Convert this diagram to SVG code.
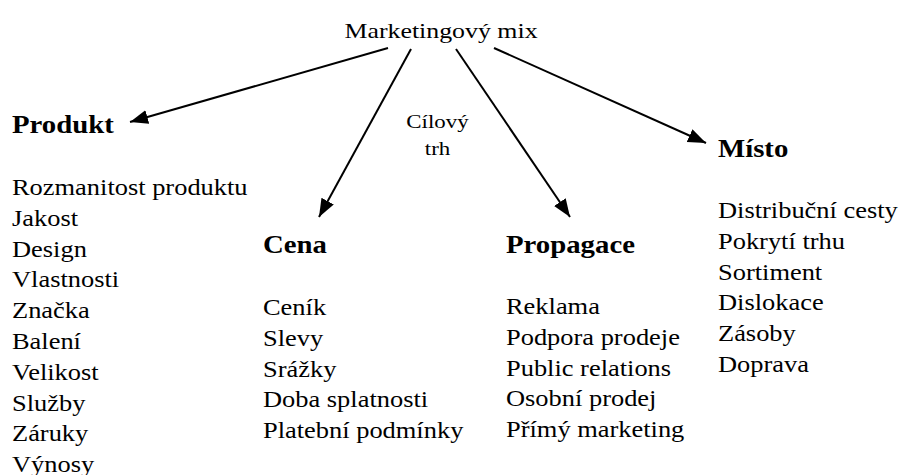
<svg xmlns="http://www.w3.org/2000/svg" width="901" height="475" viewBox="0 0 901 475">
  <style>
    text { font-family: "Liberation Serif", "Times New Roman", serif; fill: #000; }
    .title { font-size: 22px; }
    .head { font-size: 24.5px; font-weight: bold; }
    .item { font-size: 22.5px; }
    .note { font-size: 19.5px; }
    .conn { stroke: #000; stroke-width: 2; fill: none; marker-end: url(#arrow); }
  </style>
  <defs>
    <marker id="arrow" markerUnits="userSpaceOnUse" markerWidth="20" markerHeight="16" refX="18" refY="7" orient="auto">
      <path d="M0,0 L18,7 L0,14 Z" fill="#000"/>
    </marker>
  </defs>
  <rect width="901" height="475" fill="#fff"/>

  <!-- central title -->
  <g id="mix" transform="translate(441 0) scale(1.175 1)">
    <text class="title" x="0" y="38" text-anchor="middle">Marketingový mix</text>
  </g>

  <!-- target market label between the arrows -->
  <g id="trh" transform="translate(437.5 0) scale(1.175 1)">
    <text class="note" x="0" y="128" text-anchor="middle">Cílový</text>
    <text class="note" x="0" y="155" text-anchor="middle">trh</text>
  </g>

  <!-- connectors -->
  <g id="connectors">
    <line class="conn" x1="388" y1="48" x2="130" y2="122"/>
    <line class="conn" x1="411" y1="49" x2="319" y2="217"/>
    <line class="conn" x1="456" y1="49" x2="570" y2="217"/>
    <line class="conn" x1="494" y1="48" x2="706" y2="143"/>
  </g>

  <!-- Produkt -->
  <g id="produkt" transform="translate(12 0) scale(1.175 1)">
    <text class="head" x="0" y="133">Produkt</text>
    <text class="item" x="0" y="195">Rozmanitost produktu</text>
    <text class="item" x="0" y="225.8">Jakost</text>
    <text class="item" x="0" y="256.6">Design</text>
    <text class="item" x="0" y="287.4">Vlastnosti</text>
    <text class="item" x="0" y="318.2">Značka</text>
    <text class="item" x="0" y="349">Balení</text>
    <text class="item" x="0" y="379.8">Velikost</text>
    <text class="item" x="0" y="410.6">Služby</text>
    <text class="item" x="0" y="441.4">Záruky</text>
    <text class="item" x="0" y="472.2">Výnosy</text>
  </g>

  <!-- Cena -->
  <g id="cena" transform="translate(263 0) scale(1.175 1)">
    <text class="head" x="0" y="253">Cena</text>
    <text class="item" x="0" y="315">Ceník</text>
    <text class="item" x="0" y="345.8">Slevy</text>
    <text class="item" x="0" y="376.6">Srážky</text>
    <text class="item" x="0" y="407.4">Doba splatnosti</text>
    <text class="item" x="0" y="438.2">Platební podmínky</text>
  </g>

  <!-- Propagace -->
  <g id="propagace" transform="translate(506 0) scale(1.175 1)">
    <text class="head" x="0" y="253">Propagace</text>
    <text class="item" x="0" y="314">Reklama</text>
    <text class="item" x="0" y="344.8">Podpora prodeje</text>
    <text class="item" x="0" y="375.6">Public relations</text>
    <text class="item" x="0" y="406.4">Osobní prodej</text>
    <text class="item" x="0" y="437.2">Přímý marketing</text>
  </g>

  <!-- Místo -->
  <g id="misto" transform="translate(718 0) scale(1.175 1)">
    <text class="head" x="0" y="157">Místo</text>
    <text class="item" x="0" y="218">Distribuční cesty</text>
    <text class="item" x="0" y="248.8">Pokrytí trhu</text>
    <text class="item" x="0" y="279.6">Sortiment</text>
    <text class="item" x="0" y="310.4">Dislokace</text>
    <text class="item" x="0" y="341.2">Zásoby</text>
    <text class="item" x="0" y="372">Doprava</text>
  </g>
</svg>
